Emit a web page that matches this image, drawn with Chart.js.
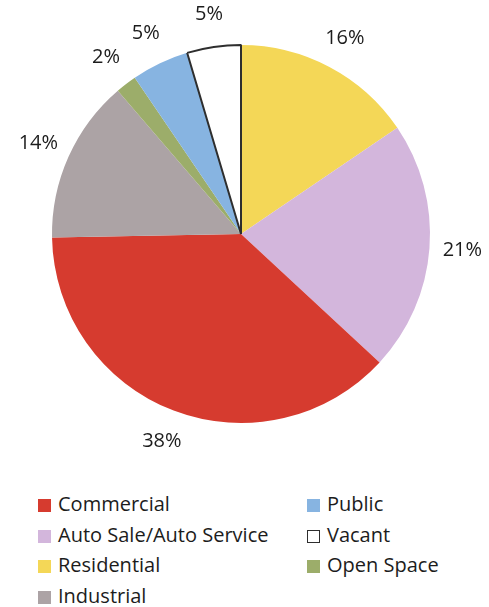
<!DOCTYPE html>
<html>
<head>
<meta charset="utf-8">
<script src="https://cdn.jsdelivr.net/npm/chart.js@4"></script>
<style>
  html, body { margin: 0; padding: 0; background: #fff; }
  #wrap { position: relative; width: 489px; height: 607px; overflow: hidden; }
  #chart-box { position: absolute; left: 0; top: 0; width: 489px; height: 470px; }
  .leg { position: absolute; font-family: "Open Sans", sans-serif; font-size: 20px; color: #1c1c1c; white-space: nowrap; line-height: 22px; }
  .leg i { display: inline-block; width: 13px; height: 13px; margin-right: 7px; vertical-align: -1px; box-sizing: border-box; }
</style>
</head>
<body>
<div id="wrap">
  <div id="chart-box"><canvas id="pie"></canvas></div>
  <div id="legend"></div>
</div>
<script>
// slices clockwise from 12 o'clock
const categories = ['Residential', 'Auto Sale/Auto Service', 'Commercial', 'Industrial', 'Open Space', 'Public', 'Vacant'];
const shares = [15.5, 21.4, 37.8, 14.0, 1.8, 4.9, 4.6];
const colors = ['#f4d757', '#d3b6dc', '#d63b2f', '#aca3a5', '#9cad6a', '#87b4e1', '#ffffff'];
const borders = ['#f4d757', '#d3b6dc', '#d63b2f', '#aca3a5', '#9cad6a', '#87b4e1', '#2e2e2e'];
const borderWidths = [0, 0, 0, 0, 0, 0, 2];

// legend order (two columns, filled top to bottom)
const legendCol1 = ['Commercial', 'Auto Sale/Auto Service', 'Residential', 'Industrial'];
const legendCol2 = ['Public', 'Vacant', 'Open Space'];

// percent labels outside the pie
const pctLabels = {
  id: 'pctLabels',
  afterDatasetsDraw(chart) {
    const {ctx} = chart;
    const meta = chart.getDatasetMeta(0);
    const total = shares.reduce((a, b) => a + b, 0);
    ctx.save();
    ctx.font = '20px "Open Sans", sans-serif';
    ctx.fillStyle = '#1c1c1c';
    ctx.textAlign = 'center';
    ctx.textBaseline = 'middle';
    meta.data.forEach((arc, i) => {
      const mid = (arc.startAngle + arc.endAngle) / 2;
      const r = arc.outerRadius + 33;
      const x = arc.x + Math.cos(mid) * r;
      const y = arc.y + Math.sin(mid) * r;
      ctx.fillText(Math.round(shares[i] / total * 100) + '%', x, y);
    });
    ctx.restore();
  }
};

new Chart(document.getElementById('pie'), {
  type: 'pie',
  data: {
    labels: categories,
    datasets: [{
      data: shares,
      backgroundColor: colors,
      borderColor: borders,
      borderWidth: borderWidths
    }]
  },
  options: {
    responsive: true,
    maintainAspectRatio: false,
    animation: false,
    layout: { padding: { left: 51, right: 58, top: 44, bottom: 46 } },
    plugins: {
      legend: { display: false },
      tooltip: { enabled: false }
    }
  },
  plugins: [pctLabels]
});

// html legend
const legend = document.getElementById('legend');
function addItem(name, left, top) {
  const i = categories.indexOf(name);
  const d = document.createElement('div');
  d.className = 'leg';
  d.style.left = left + 'px';
  d.style.top = top + 'px';
  const sw = document.createElement('i');
  sw.style.background = colors[i];
  if (name === 'Vacant') sw.style.border = '1.5px solid #2e2e2e';
  d.appendChild(sw);
  d.appendChild(document.createTextNode(name));
  legend.appendChild(d);
}
legendCol1.forEach((n, k) => addItem(n, 38, 493 + k * 30.7));
legendCol2.forEach((n, k) => addItem(n, 307, 493 + k * 30.7));
</script>
</body>
</html>
